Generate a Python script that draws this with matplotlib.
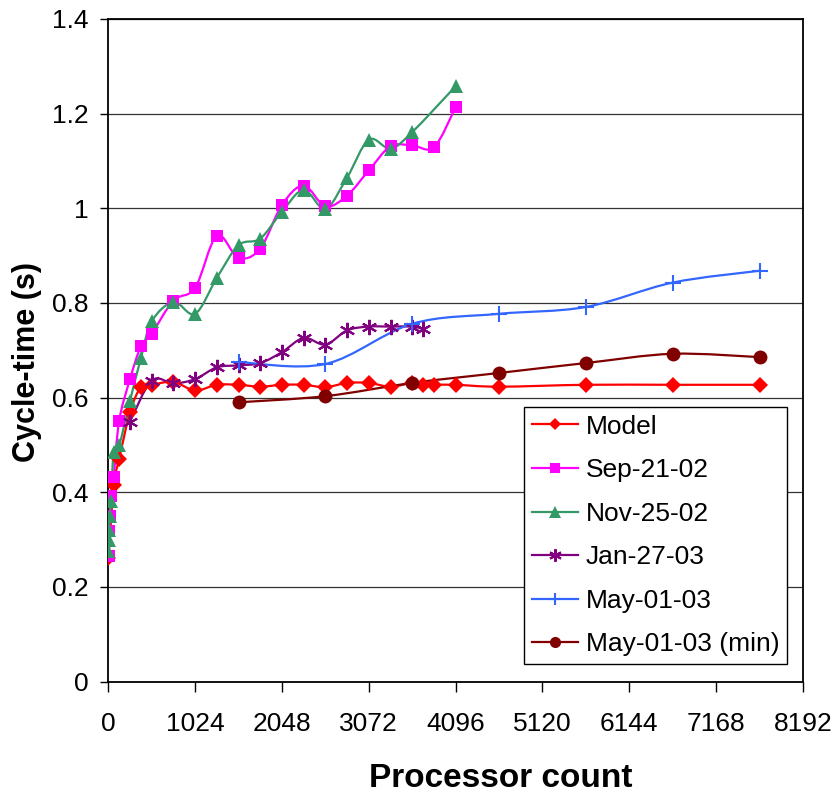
import matplotlib
matplotlib.use("Agg")
import matplotlib.pyplot as plt
from matplotlib.path import Path
from matplotlib.patches import PathPatch
from matplotlib.lines import Line2D

plt.rcParams['font.family'] = ['Liberation Sans', 'DejaVu Sans']

# ---------------- data ----------------
model_x = [2, 64, 128, 256, 384, 512, 768, 1024, 1280, 1536, 1792, 2048, 2304, 2560,
           2816, 3072, 3328, 3584, 3712, 3840, 4096, 4608, 5632, 6656, 7680]
model_y = [0.26, 0.415, 0.47, 0.569, 0.622, 0.627, 0.633, 0.615, 0.627, 0.627, 0.623,
           0.627, 0.627, 0.622, 0.631, 0.631, 0.623, 0.631, 0.627, 0.627, 0.627, 0.623,
           0.627, 0.627, 0.627]

sep_x = [4, 8, 16, 32, 64, 128, 256, 384, 512, 768, 1024, 1280, 1536, 1792, 2048,
         2304, 2560, 2816, 3072, 3328, 3584, 3840, 4096]
sep_y = [0.265, 0.318, 0.35, 0.392, 0.433, 0.551, 0.639, 0.708, 0.735, 0.805, 0.832,
         0.942, 0.895, 0.915, 1.007, 1.048, 1.004, 1.027, 1.080, 1.131, 1.133, 1.129,
         1.2136]

nov_x = [2, 4, 8, 16, 32, 64, 128, 256, 384, 512, 768, 1024, 1280, 1536, 1792, 2048,
         2304, 2560, 2816, 3072, 3328, 3584, 4096]
nov_y = [0.275, 0.30, 0.32, 0.35, 0.381, 0.486, 0.499, 0.593, 0.683, 0.761, 0.802,
         0.777, 0.853, 0.922, 0.936, 0.993, 1.039, 0.999, 1.065, 1.145, 1.126, 1.161,
         1.258]

jan_x = [256, 512, 768, 1024, 1280, 1536, 1792, 2048, 2304, 2560, 2816, 3072, 3328,
         3584, 3712]
jan_y = [0.549, 0.636, 0.630, 0.639, 0.664, 0.668, 0.673, 0.696, 0.726, 0.712, 0.742,
         0.750, 0.750, 0.750, 0.745]

may_x = [1536, 2560, 3584, 4608, 5632, 6656, 7680]
may_y = [0.675, 0.671, 0.756, 0.777, 0.7915, 0.843, 0.868]

min_x = [1536, 2560, 3584, 4608, 5632, 6656, 7680]
min_y = [0.590, 0.603, 0.631, 0.652, 0.673, 0.6925, 0.6855]

series_labels = ["Model", "Sep-21-02", "Nov-25-02", "Jan-27-03", "May-01-03",
                 "May-01-03 (min)"]

x_ticks = [0, 1024, 2048, 3072, 4096, 5120, 6144, 7168, 8192]
y_ticks = [0, 0.2, 0.4, 0.6, 0.8, 1.0, 1.2, 1.4]
y_tick_labels = ["0", "0.2", "0.4", "0.6", "0.8", "1", "1.2", "1.4"]

# ---------------- styles ----------------
styles = [
    dict(color='#FF0000', marker='D', ms=8.3, mew=0, mfc='#FF0000', lms=6.5),
    dict(color='#FF00FF', marker='s', ms=9.0, mew=0, mfc='#FF00FF', lms=7.5),
    dict(color='#339966', marker='^', ms=10.0, mew=0, mfc='#339966', lms=8.0),
    dict(color='#800080', marker=(6, 2, 0), ms=11, mew=1.5, mfc='#800080', lms=9),
    dict(color='#3366FF', marker='+', ms=11, mew=1.5, mfc='#3366FF', lms=9),
    dict(color='#800000', marker='o', ms=10.0, mew=0, mfc='#800000', lms=8),
]


def smooth_path(xs, ys):
    pts = list(zip(xs, ys))
    verts = [pts[0]]
    codes = [Path.MOVETO]
    n = len(pts)
    for i in range(n - 1):
        p0 = pts[i - 1] if i > 0 else pts[i]
        p1 = pts[i]
        p2 = pts[i + 1]
        p3 = pts[i + 2] if i + 2 < n else pts[i + 1]
        c1 = (p1[0] + (p2[0] - p0[0]) / 6.0, p1[1] + (p2[1] - p0[1]) / 6.0)
        c2 = (p2[0] - (p3[0] - p1[0]) / 6.0, p2[1] - (p3[1] - p1[1]) / 6.0)
        verts += [c1, c2, p2]
        codes += [Path.CURVE4] * 3
    return Path(verts, codes)


fig = plt.figure(figsize=(8.36, 7.94), dpi=100)
ax = fig.add_axes([108.3 / 836, 112.5 / 794, (803 - 108.3) / 836, (681.5 - 19) / 794])

data = [(model_x, model_y), (sep_x, sep_y), (nov_x, nov_y), (jan_x, jan_y),
        (may_x, may_y), (min_x, min_y)]

handles = []
for (xs, ys), st, lab in zip(data, styles, series_labels):
    patch = PathPatch(smooth_path(xs, ys), fill=False, edgecolor=st['color'], lw=1.6,
                      zorder=3)
    ax.add_patch(patch)
    ax.plot(xs, ys, linestyle='none', marker=st['marker'], ms=st['ms'],
            mfc=st['mfc'], mec=st['color'], mew=st['mew'], zorder=4)
    handles.append(Line2D([], [], color=st['color'], lw=1.6, marker=st['marker'],
                          ms=st['lms'], mfc=st['mfc'], mec=st['color'],
                          mew=st['mew']))

ax.set_xlim(0, 8192)
ax.set_ylim(0, 1.4)
ax.set_xticks(x_ticks)
ax.set_xticklabels([str(t) for t in x_ticks])
ax.set_yticks(y_ticks)
ax.set_yticklabels(y_tick_labels)
ax.tick_params(axis='x', direction='out', length=7, width=1.0, pad=15,
               labelsize=19, colors='black')
ax.tick_params(axis='y', direction='out', length=6, width=1.0, pad=8,
               labelsize=19, colors='black')
ax.yaxis.grid(True, color='#333333', lw=0.9)
ax.set_axisbelow(True)
for s in ax.spines.values():
    s.set_color('black')
    s.set_linewidth(1.3)

fig.text(501 / 836, (794 - 787) / 794, "Processor count", ha='center', va='baseline',
         fontsize=24, fontweight='bold')
fig.text(27.5 / 836, (794 - 361.5) / 794, "Cycle-time (s)", ha='center', va='center',
         rotation=90, fontsize=22, fontweight='bold')

leg = ax.legend(handles, series_labels, loc='lower left',
                bbox_to_anchor=(0.598, 0.026), fontsize=19, frameon=True,
                fancybox=False, framealpha=1, edgecolor='black', borderpad=0.3,
                labelspacing=0.74, handlelength=1.75, handletextpad=0.3,
                borderaxespad=0)
leg.get_frame().set_linewidth(1.0)

fig.savefig("out.png", dpi=100)
